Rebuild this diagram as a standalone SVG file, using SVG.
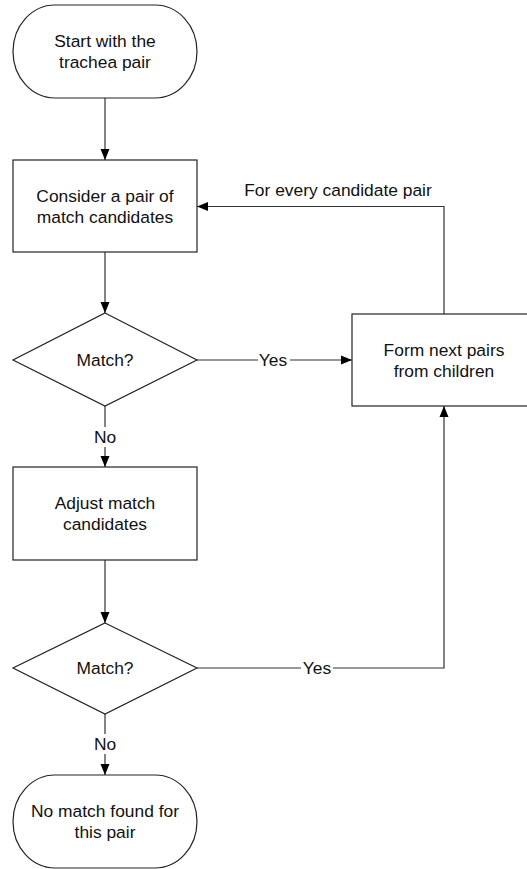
<svg xmlns="http://www.w3.org/2000/svg" width="527" height="869" viewBox="0 0 527 869">
<defs>
<style>
.shape{fill:#fff;stroke:#222;stroke-width:1.2}
.conn{fill:none;stroke:#333;stroke-width:1.2}
text{font-family:"Liberation Sans",Arial,sans-serif;font-size:17.4px;fill:#111;text-anchor:middle}
.lbl{fill:#fff;stroke:none}
</style>
<marker id="arr" viewBox="0 0 11 10" refX="11" refY="5" markerWidth="11" markerHeight="10" markerUnits="userSpaceOnUse" orient="auto">
<path d="M0,0.5 L11,5 L0,9.5 Z" fill="#000"/>
</marker>
</defs>
<rect width="527" height="869" fill="#fff"/>
<g id="connectors">
<path class="conn" d="M105,98 V160" marker-end="url(#arr)"/>
<path class="conn" d="M105,252 V313" marker-end="url(#arr)"/>
<path class="conn" d="M197,360 H352" marker-end="url(#arr)"/>
<rect class="lbl" x="258" y="350" width="32" height="20"/>
<text x="273" y="366">Yes</text>
<path class="conn" d="M444,314 V206.5 H197" marker-end="url(#arr)"/>
<text x="338" y="196">For every candidate pair</text>
<path class="conn" d="M105,406 V467" marker-end="url(#arr)"/>
<rect class="lbl" x="93" y="427" width="24" height="20"/>
<text x="105" y="443">No</text>
<path class="conn" d="M105,560 V623" marker-end="url(#arr)"/>
<path class="conn" d="M197,668 H444 V406" marker-end="url(#arr)"/>
<rect class="lbl" x="301" y="658" width="32" height="20"/>
<text x="317" y="674">Yes</text>
<path class="conn" d="M105,714 V775" marker-end="url(#arr)"/>
<rect class="lbl" x="93" y="734" width="24" height="20"/>
<text x="105" y="750">No</text>
</g>
<g id="start">
<rect class="shape" x="13" y="5" width="184" height="93" rx="42" ry="46.5"/>
<text x="105" y="47">Start with the</text>
<text x="105" y="68">trachea pair</text>
</g>
<g id="consider">
<rect class="shape" x="13" y="160" width="184" height="92"/>
<text x="105" y="201.5">Consider a pair of</text>
<text x="105" y="222.5">match candidates</text>
</g>
<g id="match1">
<polygon class="shape" points="105,313 197,360 105,406 13,360"/>
<text x="105" y="366">Match?</text>
</g>
<g id="form">
<rect class="shape" x="352" y="314" width="184" height="92"/>
<text x="444" y="355.5">Form next pairs</text>
<text x="444" y="376.5">from children</text>
</g>
<g id="adjust">
<rect class="shape" x="13" y="467" width="184" height="93"/>
<text x="105" y="509">Adjust match</text>
<text x="105" y="530">candidates</text>
</g>
<g id="match2">
<polygon class="shape" points="105,623 197,668 105,714 13,668"/>
<text x="105" y="674">Match?</text>
</g>
<g id="end">
<rect class="shape" x="13" y="775" width="184" height="93" rx="42" ry="46.5"/>
<text x="105" y="817">No match found for</text>
<text x="105" y="838">this pair</text>
</g>
</svg>
